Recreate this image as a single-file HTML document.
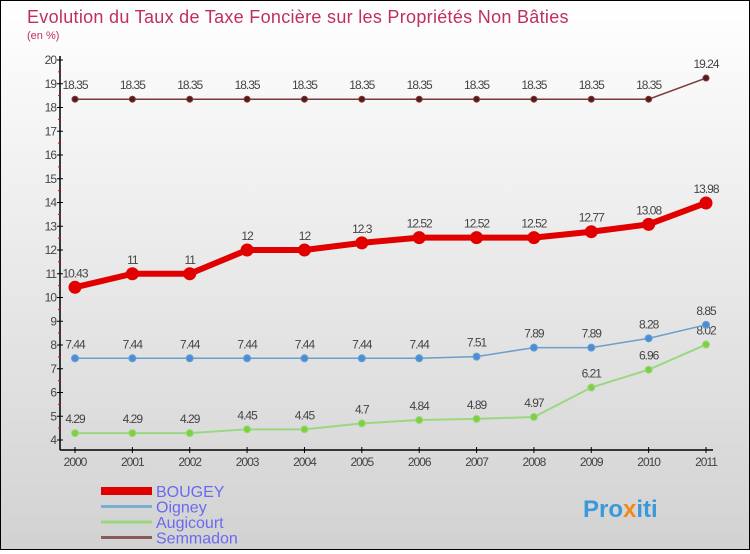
<!DOCTYPE html>
<html><head><meta charset="utf-8"><style>
body{margin:0}
#c{width:748px;height:548px;border:1px solid #000;background:linear-gradient(#fff,#d2d2d2);position:relative;font-family:"Liberation Sans",sans-serif}
</style></head><body>
<div id="c">
<svg id="s" width="748" height="548">
<text x="26" y="22" font-size="18" fill="#c0305a" letter-spacing="0.3">Evolution du Taux de Taxe Foncière sur les Propriétés Non Bâties</text>
<text x="26" y="38" font-size="11" fill="#c0305a">(en %)</text>
<text x="582" y="516" font-size="24" font-weight="bold" fill="#3a9ad9">Pro<tspan fill="#f08a1a">x</tspan>iti</text>
</svg></div>
<script>
const years=[2000,2001,2002,2003,2004,2005,2006,2007,2008,2009,2010,2011];
const bougey=[10.43,11,11,12,12,12.3,12.52,12.52,12.52,12.77,13.08,13.98];
const oigney=[7.44,7.44,7.44,7.44,7.44,7.44,7.44,7.51,7.89,7.89,8.28,8.85];
const augicourt=[4.29,4.29,4.29,4.45,4.45,4.7,4.84,4.89,4.97,6.21,6.96,8.02];
const semmadon=[18.35,18.35,18.35,18.35,18.35,18.35,18.35,18.35,18.35,18.35,18.35,19.24];
const yTicks=[4,5,6,7,8,9,10,11,12,13,14,15,16,17,18,19,20];
const seriesNames=["BOUGEY","Oigney","Augicourt","Semmadon"];
const s=document.getElementById('s'),NS="http://www.w3.org/2000/svg";
const X=i=>74+i*(705-74)/(years.length-1);
const Y=v=>439-(v-4)*(439-59)/16;
function el(t,a,p){const e=document.createElementNS(NS,t);for(const k in a)e.setAttribute(k,a[k]);(p||s).appendChild(e);return e;}
let e=el('line',{x1:59,y1:55,x2:59,y2:449,stroke:'#000','stroke-width':1.5});


e=el('line',{x1:59,y1:449,x2:712,y2:449,stroke:'#000','stroke-width':1.5});


yTicks.forEach(v=>{
 el('line',{x1:56,x2:62,y1:Y(v),y2:Y(v),stroke:'#000'});
 if(v<20)el('line',{x1:57,x2:60,y1:Y(v+0.5),y2:Y(v+0.5),stroke:'#e00'});
 const t=el('text',{x:55,y:Y(v)+4,'font-size':12,'text-anchor':'end',fill:'#444','letter-spacing':-1});
 t.textContent=v;
 
 
});
years.forEach((y,i)=>{
 el('line',{x1:X(i),x2:X(i),y1:446,y2:452,stroke:'#000'});
 const t=el('text',{x:X(i),y:465,'font-size':12,'text-anchor':'middle',fill:'#444','letter-spacing':-1});
 t.textContent=y;
 
 
});
function series(d,name,col,lw,r,dot){
 const g=el('g',{});
 
 
 el('polyline',{points:d.map((v,i)=>X(i)+','+Y(v)).join(' '),fill:'none',stroke:col,'stroke-width':lw},g);
 d.forEach((v,i)=>{
  const c=el('circle',{cx:X(i),cy:Y(v),r:r,fill:dot,stroke:col,'stroke-width':1},g);
  
  
  const t=el('text',{x:X(i),y:Y(v)-10,'font-size':12,'text-anchor':'middle',fill:'#444','letter-spacing':-1},g);
  t.textContent=v;
  
  
 });
}
series(semmadon,'semmadon','#7a3a3a',1.5,3,'#5a1a1a');
series(augicourt,'augicourt','#9ad880',2,3.5,'#7fd040');
series(oigney,'oigney','#6a9ecc',1.5,3.5,'#4a8ed8');
series(bougey,'bougey','#e00000',6,6,'#e00000');
const lc=['#e00000','#7aaed0','#9ad880','#8a5a5a'],lw=[8,3,3,3];
seriesNames.forEach((n,i)=>{
 const y=490+i*15.5;
 const l=el('line',{x1:100,x2:151,y1:y,y2:y,stroke:lc[i],'stroke-width':lw[i]});
 
 
 const t=el('text',{x:155,y:y+6,'font-size':16,fill:'#6a6af0'});
 t.textContent=n;
 
 
});
</script></body></html>
